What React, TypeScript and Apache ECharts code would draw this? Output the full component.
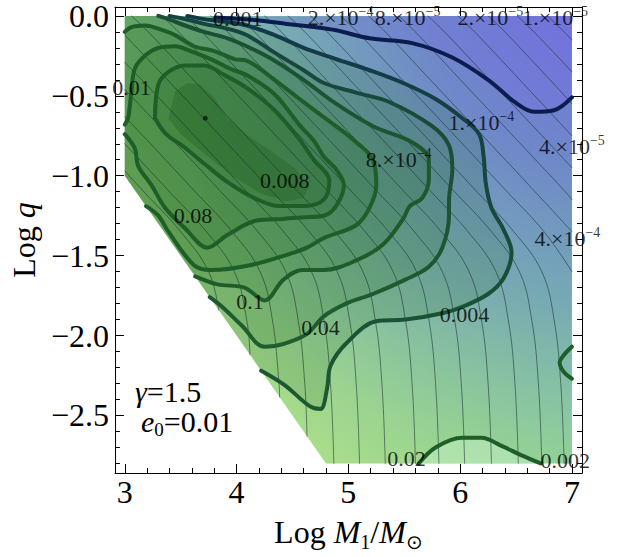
import React, { useEffect, useRef } from "react";
import * as echarts from "echarts";

const FONT = "Liberation Serif";

// axes
const X_RANGE = [2.912, 7.09];
const Y_RANGE = [-2.86, 0.055];
const X_MAJOR = [3, 4, 5, 6, 7];
const X_MINOR = [3.2, 3.4, 3.6, 3.8, 4.2, 4.4, 4.6, 4.8, 5.2, 5.4, 5.6, 5.8, 6.2, 6.4, 6.6, 6.8];
const Y_MAJOR = [0, -0.5, -1, -1.5, -2, -2.5];
const Y_MINOR = [-0.1, -0.2, -0.3, -0.4, -0.6, -0.7, -0.8, -0.9, -1.1, -1.2, -1.3, -1.4, -1.6, -1.7, -1.8, -1.9, -2.1, -2.2, -2.3, -2.4, -2.6, -2.7, -2.8];

// plotted domain
const REGION = [[3, 0], [7, 0], [7, -2.8], [4.8, -2.8], [3, -1]];

// thick contours
const N_LINE = [[3.81, -0.01], [4.05, -0.02], [4.22, -0.03], [4.45, -0.05], [4.7, -0.07], [4.89, -0.09], [5.19, -0.14], [5.57, -0.17], [5.93, -0.26], [6.25, -0.4], [6.49, -0.54], [6.66, -0.6], [6.84, -0.59], [7.0, -0.51]];
const C1 = [[3.56, 0], [3.71, -0.02], [3.83, -0.03], [4.09, -0.06], [4.34, -0.12], [4.6, -0.2], [4.89, -0.27], [5.19, -0.34], [5.49, -0.42], [5.78, -0.52], [6.02, -0.64], [6.17, -0.74], [6.21, -0.88], [6.23, -1.05], [6.28, -1.2], [6.39, -1.34], [6.46, -1.48], [6.39, -1.64], [6.25, -1.74], [6.02, -1.82], [5.84, -1.86], [5.51, -1.9], [5.25, -1.91], [4.98, -2.05], [4.84, -2.19], [4.81, -2.33], [4.75, -2.46], [4.65, -2.44], [4.43, -2.31], [4.22, -2.22]];
const C2 = [[3.4, 0], [3.54, -0.02], [3.71, -0.05], [3.92, -0.08], [4.09, -0.12], [4.34, -0.23], [4.6, -0.34], [4.78, -0.42], [5.07, -0.48], [5.37, -0.54], [5.75, -0.69], [5.9, -0.81], [5.93, -0.96], [5.9, -1.16], [5.9, -1.25], [5.84, -1.45], [5.72, -1.57], [5.51, -1.65], [5.22, -1.74], [4.98, -1.8], [4.78, -1.88], [4.63, -1.99], [4.43, -2.05], [4.25, -2.07], [4.05, -1.94], [3.87, -1.82], [3.76, -1.76]];
const C3 = [[3.3, 0], [3.39, -0.02], [3.54, -0.06], [3.71, -0.1], [3.92, -0.14], [4.09, -0.19], [4.34, -0.28], [4.6, -0.4], [4.87, -0.54], [5.22, -0.69], [5.57, -0.79], [5.72, -0.9], [5.72, -1.02], [5.66, -1.14], [5.55, -1.19], [5.49, -1.27], [5.31, -1.43], [5.07, -1.53], [4.78, -1.59], [4.59, -1.59], [4.42, -1.65], [4.25, -1.78], [4.07, -1.7], [3.83, -1.68], [3.63, -1.63]];
const C4 = [[3.0, -0.1], [3.06, -0.07], [3.18, -0.06], [3.3, -0.08], [3.45, -0.12], [3.62, -0.19], [3.8, -0.22], [3.98, -0.27], [4.09, -0.28], [4.34, -0.4], [4.6, -0.54], [4.87, -0.68], [5.07, -0.79], [5.22, -0.9], [5.25, -1.06], [5.19, -1.2], [5.07, -1.31], [4.78, -1.39], [4.63, -1.45], [4.47, -1.49], [4.12, -1.56], [3.77, -1.59], [3.62, -1.56], [3.39, -1.35], [3.3, -1.25], [3.19, -1.19]];
const C5 = [[3.0, -0.74], [3.09, -0.83], [3.12, -0.94], [3.24, -1.06], [3.36, -1.2], [3.54, -1.33], [3.74, -1.45], [3.92, -1.37], [4.18, -1.28], [4.42, -1.27], [4.6, -1.26], [4.78, -1.25], [4.89, -1.19], [4.96, -1.06], [4.89, -0.96], [4.78, -0.88], [4.69, -0.78], [4.56, -0.68], [4.34, -0.49], [4.09, -0.37], [3.94, -0.33], [3.77, -0.27], [3.59, -0.22], [3.45, -0.19], [3.3, -0.2], [3.18, -0.25], [3.09, -0.33], [3.06, -0.47], [3.03, -0.64], [3.0, -0.68]];
const C6 = [[3.27, -0.64], [3.3, -0.43], [3.39, -0.35], [3.54, -0.31], [3.71, -0.31], [3.89, -0.37], [4.09, -0.45], [4.34, -0.59], [4.56, -0.77], [4.69, -0.9], [4.83, -1.03], [4.78, -1.15], [4.6, -1.19], [4.38, -1.19], [4.16, -1.14], [3.94, -1.05], [3.72, -0.93], [3.53, -0.82], [3.37, -0.74], [3.27, -0.64]];
const CORE = [[3.39, -0.64], [3.45, -0.47], [3.56, -0.42], [3.68, -0.43], [3.8, -0.51], [3.92, -0.64], [4.12, -0.76], [4.34, -0.86], [4.53, -0.96], [4.65, -1.06], [4.6, -1.14], [4.44, -1.16], [4.21, -1.11], [3.94, -0.99], [3.69, -0.85], [3.5, -0.74], [3.39, -0.64]];
const B_LINE = [[5.63, -2.8], [5.78, -2.7], [6.02, -2.64], [6.19, -2.64], [6.37, -2.69], [6.55, -2.75], [6.72, -2.8]];
const R_LINE = [[7.0, -2.07], [6.93, -2.12], [6.89, -2.17], [6.93, -2.23], [7.0, -2.27]];
const PEAK_DOT = [[3.72, -0.64]];

// thin contours
const THIN_LINES = [
  [[3.84, -1.84], [3.75, -1.6], [3.5, -1.35], [3.17, -1.1], [3.0, -0.97]],
  [[4.12, -2.12], [4.09, -1.9], [3.98, -1.6], [3.73, -1.35], [3.4, -1.1], [3.0, -0.8]],
  [[4.385, -2.385], [4.38, -2.3], [4.32, -1.9], [4.21, -1.6], [3.96, -1.35], [3.63, -1.1], [3.23, -0.8], [3.0, -0.63]],
  [[4.63, -2.63], [4.61, -2.3], [4.55, -1.9], [4.44, -1.6], [4.19, -1.35], [3.86, -1.1], [3.46, -0.8], [3.0, -0.46]],
  [[4.87, -2.8], [4.84, -2.3], [4.78, -1.9], [4.67, -1.6], [4.42, -1.35], [4.09, -1.1], [3.69, -0.8], [3.22, -0.45], [3.0, -0.29]],
  [[5.1, -2.8], [5.07, -2.3], [5.01, -1.9], [4.9, -1.6], [4.65, -1.35], [4.32, -1.1], [3.92, -0.8], [3.45, -0.45], [3.0, -0.12]],
  [[5.33, -2.8], [5.3, -2.3], [5.24, -1.9], [5.13, -1.6], [4.88, -1.35], [4.55, -1.1], [4.15, -0.8], [3.68, -0.45], [3.21, -0.1], [3.06, 0]],
  [[5.6, -2.8], [5.57, -2.3], [5.51, -1.9], [5.4, -1.6], [5.15, -1.35], [4.82, -1.1], [4.42, -0.8], [3.95, -0.45], [3.48, -0.1], [3.33, 0]],
  [[5.81, -2.8], [5.78, -2.3], [5.72, -1.9], [5.61, -1.6], [5.36, -1.35], [5.03, -1.1], [4.63, -0.8], [4.16, -0.45], [3.69, -0.1], [3.54, 0]],
  [[6.04, -2.8], [6.01, -2.3], [5.95, -1.9], [5.84, -1.6], [5.59, -1.35], [5.26, -1.1], [4.86, -0.8], [4.39, -0.45], [3.92, -0.1], [3.77, 0]],
  [[6.28, -2.8], [6.25, -2.3], [6.19, -1.9], [6.08, -1.6], [5.83, -1.35], [5.5, -1.1], [5.1, -0.8], [4.63, -0.45], [4.16, -0.1], [4.01, 0]],
  [[6.52, -2.8], [6.49, -2.3], [6.43, -1.9], [6.32, -1.6], [6.07, -1.35], [5.74, -1.1], [5.34, -0.8], [4.87, -0.45], [4.4, -0.1], [4.25, 0]],
  [[6.73, -2.8], [6.7, -2.3], [6.64, -1.9], [6.53, -1.6], [6.28, -1.35], [5.95, -1.1], [5.55, -0.8], [5.08, -0.45], [4.61, -0.1], [4.46, 0]],
  [[6.93, -2.8], [6.9, -2.3], [6.84, -1.9], [6.73, -1.6], [6.48, -1.35], [6.15, -1.1], [5.75, -0.8], [5.28, -0.45], [4.81, -0.1], [4.66, 0]],
  [[7.0, -1.6], [6.75, -1.35], [6.42, -1.1], [6.02, -0.8], [5.55, -0.45], [5.08, -0.1], [4.93, 0]],
  [[7.0, -1.35], [6.67, -1.1], [6.27, -0.8], [5.8, -0.45], [5.33, -0.1], [5.18, 0]],
  [[7.0, -1.15], [6.94, -1.1], [6.54, -0.8], [6.07, -0.45], [5.6, -0.1], [5.45, 0]],
  [[7.0, -0.95], [6.8, -0.8], [6.33, -0.45], [5.86, -0.1], [5.71, 0]],
  [[7.0, -0.75], [6.6, -0.45], [6.13, -0.1], [5.98, 0]],
  [[7.0, -0.55], [6.87, -0.45], [6.4, -0.1], [6.25, 0]],
  [[7.0, -0.35], [6.66, -0.1], [6.51, 0]],
  [[7.0, -0.15], [6.93, -0.1], [6.78, 0]],
];

// contour labels
const LABEL_TEXT = ["0.001", "2.×10", "8.×10", "2.×10", "1.×10", "0.01", "1.×10", "8.×10", "4.×10", "0.008", "0.08", "4.×10", "0.1", "0.04", "0.004", "0.02", "0.002"];
const LABEL_EXP = ["", "−4", "−5", "−5", "−5", "", "−4", "−4", "−5", "", "", "−4", "", "", "", "", ""];
const LABEL_X = [4.01, 4.93, 5.53, 6.27, 6.85, 3.06, 6.19, 5.45, 7.0, 4.43, 3.61, 6.96, 4.12, 4.75, 6.04, 5.52, 6.94];
const LABEL_Y = [-0.015, -0.01, -0.01, -0.01, -0.01, -0.45, -0.67, -0.9, -0.82, -1.03, -1.25, -1.39, -1.79, -1.95, -1.87, -2.77, -2.78];

function polygonSeries(pts: number[][], style: any, z: number) {
  return {
    type: "custom",
    coordinateSystem: "cartesian2d",
    xAxisIndex: 0,
    yAxisIndex: 0,
    silent: true,
    clip: false,
    z,
    data: [[pts[0][0], pts[0][1]]],
    renderItem: (_p: any, api: any) => ({
      type: "polygon",
      shape: { points: pts.map((p) => api.coord(p)) },
      style,
    }),
  };
}

function lineSeries(pts: number[][], color: any, width: number, z: number, smooth = 0.35) {
  return {
    type: "line",
    xAxisIndex: 0,
    yAxisIndex: 0,
    data: pts,
    symbol: "none",
    smooth,
    silent: true,
    z,
    lineStyle: { color, width, cap: "round", join: "round" },
  };
}

function vgrad(top: string, bottom: string) {
  return new echarts.graphic.LinearGradient(0, 0, 0, 1, [
    { offset: 0, color: top },
    { offset: 1, color: bottom },
  ]);
}

function buildOption() {
  const band = "rgba(22,92,12,0.14)";
  const green = "#1e5e28";
  const base = new echarts.graphic.LinearGradient(0, 1, 1, 0, [
    { offset: 0, color: "#c2ea78" },
    { offset: 0.45, color: "#9fdf90" },
    { offset: 0.7, color: "#93d6aa" },
    { offset: 1, color: "#8acab8" },
  ]);
  const blue = new echarts.graphic.RadialGradient(1, 0, 1.3, [
    { offset: 0, color: "rgba(112,108,222,0.92)" },
    { offset: 0.25, color: "rgba(100,112,210,0.75)" },
    { offset: 0.5, color: "rgba(92,130,190,0.52)" },
    { offset: 0.75, color: "rgba(100,150,175,0.2)" },
    { offset: 1, color: "rgba(120,170,180,0)" },
  ]);

  const tickLine = { color: "#000", width: 1 };
  const tickRich = { t: { fontSize: 32, fontFamily: FONT, color: "#000", lineHeight: 30 } };
  const xBase = { type: "value", min: X_RANGE[0], max: X_RANGE[1], splitLine: { show: false }, gridIndex: 0 };
  const yBase = { type: "value", min: Y_RANGE[0], max: Y_RANGE[1], splitLine: { show: false }, gridIndex: 0 };

  const series: any[] = [
    polygonSeries(REGION, { fill: base }, 1),
    polygonSeries(REGION, { fill: blue }, 1),
    polygonSeries([...N_LINE, [7, 0]], { fill: "rgba(120,112,225,0.28)" }, 1),
    polygonSeries([...C1, [3, -1], [3, 0]], { fill: band }, 2),
    polygonSeries([...C2, [3, -1], [3, 0]], { fill: band }, 2),
    polygonSeries([...C3, [3, -1], [3, 0]], { fill: band }, 2),
    polygonSeries([...C4, [3, -1]], { fill: band }, 2),
    polygonSeries(C5, { fill: band }, 2),
    polygonSeries(C6, { fill: band }, 2),
    polygonSeries(CORE, { fill: "rgba(15,75,10,0.22)" }, 2),
    polygonSeries(B_LINE, { fill: "rgba(215,255,220,0.35)" }, 2),
  ];

  THIN_LINES.forEach((pts) => series.push(lineSeries(pts, "rgba(25,45,45,0.62)", 0.9, 5, 0.4)));

  series.push(lineSeries(N_LINE, "#0b1c4f", 4, 6));
  series.push(lineSeries(C1, vgrad("#12384a", "#1c5a30"), 4, 6));
  series.push(lineSeries(C2, vgrad("#17433f", "#1f5e2c"), 4, 6));
  series.push(lineSeries(C3, vgrad("#1b4f36", green), 4, 6));
  series.push(lineSeries(C4, green, 4, 6));
  series.push(lineSeries(C5, green, 4, 6));
  series.push(lineSeries(C6, green, 4, 6));
  series.push(lineSeries(B_LINE, green, 4, 6));
  series.push(lineSeries(R_LINE, green, 4, 6));

  series.push({
    type: "scatter",
    xAxisIndex: 0,
    yAxisIndex: 0,
    data: PEAK_DOT,
    symbolSize: 5,
    itemStyle: { color: "#111" },
    silent: true,
    z: 7,
  });

  series.push({
    type: "scatter",
    xAxisIndex: 0,
    yAxisIndex: 0,
    silent: true,
    z: 8,
    symbolSize: 1,
    itemStyle: { color: "rgba(0,0,0,0)" },
    data: LABEL_TEXT.map((t, i) => ({ value: [LABEL_X[i], LABEL_Y[i]], t, e: LABEL_EXP[i] })),
    label: {
      show: true,
      position: "inside",
      formatter: (p: any) => (p.data.e ? `{m|${p.data.t}}{s|${p.data.e}}` : `{m|${p.data.t}}`),
      rich: {
        m: { fontSize: 22, fontFamily: FONT, color: "#000", lineHeight: 26, verticalAlign: "middle" },
        s: { fontSize: 14, fontFamily: FONT, color: "#000", lineHeight: 14, verticalAlign: "top" },
      },
    },
  });

  const nameRich = {
    n: { fontSize: 32, fontFamily: FONT, color: "#000", lineHeight: 40, verticalAlign: "middle" },
    i: { fontSize: 32, fontFamily: FONT, fontStyle: "italic", color: "#000", lineHeight: 40, verticalAlign: "middle" },
    b: { fontSize: 20, fontFamily: FONT, color: "#000", lineHeight: 20, verticalAlign: "bottom" },
  };

  return {
    animation: false,
    backgroundColor: "#fff",
    grid: { left: 108, top: 6, width: 474, height: 472, containLabel: false },
    xAxis: [
      {
        ...xBase,
        position: "bottom",
        axisLine: { show: true, onZero: false, lineStyle: tickLine },
        axisTick: { show: true, inside: true, length: 9, customValues: X_MAJOR, lineStyle: tickLine },
        axisLabel: { show: true, customValues: X_MAJOR, margin: 4, fontSize: 32, fontFamily: FONT, color: "#000", rich: tickRich, formatter: (v: number) => `{t|${v}}` },
        name: "{n|Log }{i|M}{b|1}{n|/}{i|M}{b|⊙}",
        nameLocation: "middle",
        nameGap: 39,
        nameTextStyle: { rich: nameRich },
      },
      {
        ...xBase,
        position: "bottom",
        axisLine: { show: false, onZero: false },
        axisTick: { show: true, inside: true, length: 5, customValues: X_MINOR, lineStyle: tickLine },
        axisLabel: { show: false },
      },
      {
        ...xBase,
        position: "top",
        axisLine: { show: true, onZero: false, lineStyle: tickLine },
        axisTick: { show: true, inside: true, length: 9, customValues: X_MAJOR, lineStyle: tickLine },
        axisLabel: { show: false },
      },
      {
        ...xBase,
        position: "top",
        axisLine: { show: false, onZero: false },
        axisTick: { show: true, inside: true, length: 5, customValues: X_MINOR, lineStyle: tickLine },
        axisLabel: { show: false },
      },
    ],
    yAxis: [
      {
        ...yBase,
        position: "left",
        axisLine: { show: true, onZero: false, lineStyle: tickLine },
        axisTick: { show: true, inside: true, length: 9, customValues: Y_MAJOR, lineStyle: tickLine },
        axisLabel: {
          show: true,
          customValues: Y_MAJOR,
          margin: 6,
          fontSize: 32,
          fontFamily: FONT,
          color: "#000",
          rich: tickRich,
          formatter: (v: number) => `{t|${Math.abs(v) < 1e-9 ? "0.0" : "−" + Math.abs(v).toFixed(1)}}`,
        },
        name: "{n|Log }{i|q}",
        nameLocation: "middle",
        nameGap: 70,
        nameRotate: 90,
        nameTextStyle: { rich: nameRich },
      },
      {
        ...yBase,
        position: "left",
        axisLine: { show: false, onZero: false },
        axisTick: { show: true, inside: true, length: 5, customValues: Y_MINOR, lineStyle: tickLine },
        axisLabel: { show: false },
      },
      {
        ...yBase,
        position: "right",
        axisLine: { show: true, onZero: false, lineStyle: tickLine },
        axisTick: { show: true, inside: true, length: 9, customValues: Y_MAJOR, lineStyle: tickLine },
        axisLabel: { show: false },
      },
      {
        ...yBase,
        position: "right",
        axisLine: { show: false, onZero: false },
        axisTick: { show: true, inside: true, length: 5, customValues: Y_MINOR, lineStyle: tickLine },
        axisLabel: { show: false },
      },
    ],
    graphic: [
      {
        type: "text",
        x: 135,
        y: 391,
        z: 100,
        style: {
          text: "{i|γ}{n|=1.5}",
          verticalAlign: "middle",
          rich: {
            i: { fontSize: 30, fontFamily: FONT, fontStyle: "italic", fill: "#000", lineHeight: 36, verticalAlign: "middle" },
            n: { fontSize: 30, fontFamily: FONT, fill: "#000", lineHeight: 36, verticalAlign: "middle" },
          },
        },
      },
      {
        type: "text",
        x: 141,
        y: 421,
        z: 100,
        style: {
          text: "{i|e}{b|0}{n|=0.01}",
          verticalAlign: "middle",
          rich: {
            i: { fontSize: 30, fontFamily: FONT, fontStyle: "italic", fill: "#000", lineHeight: 36, verticalAlign: "middle" },
            b: { fontSize: 19, fontFamily: FONT, fill: "#000", lineHeight: 19, verticalAlign: "bottom" },
            n: { fontSize: 30, fontFamily: FONT, fill: "#000", lineHeight: 36, verticalAlign: "middle" },
          },
        },
      },
    ],
    series,
  };
}

export default function App() {
  const ref = useRef<HTMLDivElement>(null);
  useEffect(() => {
    const chart = echarts.init(ref.current as HTMLDivElement, undefined, { renderer: "svg" });
    chart.setOption(buildOption() as any);
    return () => chart.dispose();
  }, []);
  return (
    <div
      ref={ref}
      style={{ position: "fixed", left: 0, top: 0, width: 618, height: 557, background: "#fff" }}
    />
  );
}
